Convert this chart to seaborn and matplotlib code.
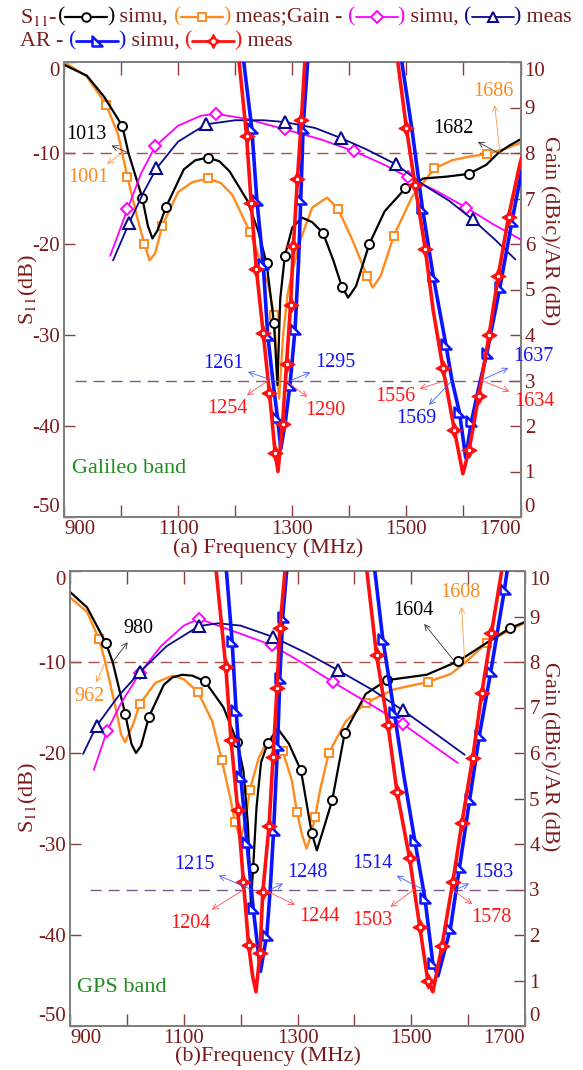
import numpy as np
import matplotlib
matplotlib.use("Agg")
import matplotlib.pyplot as plt
import seaborn as sns
from matplotlib.path import Path

# ======================= DATA =======================
# ---------- panel (a) Galileo band ----------
A_S11_SIM_F = [900, 940, 970, 1002, 1013, 1037, 1047, 1055, 1064, 1079, 1110, 1130, 1152, 1172, 1190, 1221, 1240, 1255, 1268, 1274,
               1279, 1287, 1300, 1317, 1335, 1354, 1372, 1387, 1398, 1412, 1435, 1462, 1498, 1530, 1570, 1609, 1640, 1661, 1680, 1700]
A_S11_SIM = [-0.3, -1.5, -3.8, -7.0, -10.0, -14.9, -18.0, -19.4, -18.5, -15.9, -11.8, -10.8, -10.5, -10.9, -12.0, -15.2, -18.5, -22.1, -28.7, -35.5,
             -26.0, -21.3, -18.2, -17.1, -17.6, -18.8, -21.8, -24.7, -25.9, -24.6, -20.0, -16.4, -13.9, -12.8, -12.6, -12.3, -11.3, -10.0, -9.2, -8.5]
A_S11_SIM_MK = [1002, 1037, 1079, 1152, 1255, 1268, 1287, 1354, 1387, 1435, 1498, 1609]

A_S11_MEAS_F = [900, 940, 974, 995, 1011, 1030, 1041, 1050, 1060, 1072, 1100, 1125, 1152, 1175, 1195, 1226, 1244, 1258, 1268, 1277,
                1284, 1292, 1300, 1314, 1335, 1361, 1380, 1405, 1431, 1441, 1455, 1478, 1510, 1549, 1580, 1610, 1642, 1670, 1700]
A_S11_MEAS = [0.0, -1.6, -4.7, -8.0, -12.6, -17.5, -20.0, -21.8, -21.0, -18.0, -14.3, -13.2, -12.8, -13.3, -14.6, -18.7, -21.8, -24.5, -27.8, -37.0,
              -30.0, -25.5, -23.0, -19.6, -16.0, -14.9, -16.1, -19.5, -23.5, -24.8, -23.5, -19.1, -14.8, -11.7, -10.8, -10.4, -10.1, -9.6, -8.9]
A_S11_MEAS_MK = [974, 1011, 1041, 1072, 1152, 1226, 1268, 1380, 1431, 1478, 1549, 1642]

A_GAIN_SIM_F = [981, 1011, 1035, 1060, 1100, 1140, 1167, 1220, 1287, 1350, 1408, 1460, 1503, 1555, 1605, 1650, 1700]
A_GAIN_SIM = [5.74, 6.76, 7.55, 8.15, 8.6, 8.82, 8.86, 8.75, 8.52, 8.3, 8.04, 7.75, 7.47, 7.15, 6.8, 6.45, 6.1]
A_GAIN_SIM_MK = [1011, 1060, 1167, 1287, 1408, 1503, 1605]

A_GAIN_MEAS_F = [986, 1014, 1040, 1062, 1100, 1149, 1200, 1250, 1287, 1340, 1385, 1430, 1482, 1530, 1575, 1616, 1655, 1691]
A_GAIN_MEAS = [5.64, 6.46, 7.15, 7.66, 8.25, 8.63, 8.72, 8.72, 8.68, 8.55, 8.33, 8.08, 7.75, 7.3, 6.95, 6.54, 6.1, 5.66]
A_GAIN_MEAS_MK = [1014, 1062, 1149, 1287, 1385, 1482, 1616]

A_AR_SIM_L_F = [1208, 1215, 1229, 1238, 1249, 1257, 1266, 1274, 1280, 1288, 1296, 1305, 1311, 1315, 1319, 1327, 1330]
A_AR_SIM_L = [11.0, 10.0, 8.55, 6.96, 5.57, 4.0, 3.0, 2.2, 1.5, 2.1, 2.9, 4.14, 5.6, 7.0, 8.55, 10.0, 11.0]
A_AR_SIM_L_MK = [1229, 1238, 1249, 1257, 1274, 1296, 1305, 1315, 1319]

A_AR_MEAS_L_F = [1200, 1207, 1220, 1228, 1237, 1249, 1260, 1270, 1275, 1283, 1290, 1297, 1302, 1309, 1316, 1322, 1326]
A_AR_MEAS_L = [11.0, 10.0, 8.37, 6.9, 5.46, 4.05, 2.73, 1.41, 1.0, 2.05, 3.37, 4.65, 5.95, 7.42, 8.72, 10.0, 11.0]
A_AR_MEAS_L_MK = [1220, 1228, 1237, 1249, 1260, 1270, 1283, 1290, 1297, 1302, 1309, 1316]

A_AR_SIM_R_F = [1481, 1492, 1510, 1528, 1547, 1569, 1580, 1593, 1604, 1614, 1627, 1641, 1664, 1685, 1702]
A_AR_SIM_R = [11.0, 10.0, 8.5, 6.8, 5.3, 3.8, 3.0, 2.3, 1.3, 2.1, 2.85, 3.6, 5.05, 6.5, 7.6]
A_AR_SIM_R_MK = [1528, 1547, 1569, 1593, 1614, 1641, 1664, 1685]

A_AR_MEAS_R_F = [1475, 1485, 1500, 1515, 1533, 1547, 1564, 1584, 1599, 1610, 1627, 1645, 1661, 1679, 1698, 1702]
A_AR_MEAS_R = [11.0, 10.0, 8.55, 7.3, 5.9, 4.54, 3.28, 1.92, 0.95, 1.48, 2.67, 4.0, 5.3, 6.6, 7.7, 7.9]
A_AR_MEAS_R_MK = [1500, 1515, 1533, 1564, 1584, 1610, 1627, 1645, 1661, 1679]

# ---------- panel (b) GPS band ----------
B_S11_SIM_F = [900, 930, 963, 975, 997, 1008, 1016, 1025, 1039, 1065, 1080, 1097, 1115, 1137, 1170, 1194, 1205, 1213, 1218, 1222,
               1228, 1236, 1248, 1265, 1285, 1306, 1325, 1334, 1345, 1361, 1383, 1420, 1457, 1527, 1583, 1630, 1673, 1700]
B_S11_SIM = [-2.3, -4.0, -7.9, -10.0, -15.7, -19.0, -20.0, -19.2, -16.0, -12.5, -11.7, -11.4, -11.5, -12.1, -15.0, -18.8, -22.0, -28.0, -36.5, -32.6,
             -25.9, -21.0, -18.9, -17.3, -19.0, -21.9, -28.8, -30.7, -28.5, -25.2, -17.8, -13.5, -12.0, -11.4, -9.9, -8.0, -6.3, -5.6]
B_S11_SIM_MK = [963, 997, 1039, 1137, 1194, 1222, 1248, 1306, 1325, 1361, 1383, 1457, 1583, 1673]

B_S11_MEAS_F = [900, 930, 951, 962, 980, 990, 997, 1010, 1023, 1050, 1065, 1081, 1100, 1125, 1150, 1167, 1182, 1190, 1200, 1208,
                1216, 1232, 1246, 1274, 1290, 1299, 1308, 1316, 1324, 1331, 1340, 1355, 1385, 1420, 1470, 1529, 1570, 1594, 1633, 1670, 1700]
B_S11_MEAS = [-2.9, -4.5, -7.5, -10.0, -15.0, -18.0, -18.8, -17.0, -14.6, -12.3, -11.9, -11.5, -11.9, -13.3, -16.5, -20.8, -25.0, -27.6, -29.5, -27.5,
              -24.1, -20.5, -18.8, -19.8, -23.0, -26.5, -29.0, -30.5, -29.0, -27.0, -24.0, -20.0, -16.5, -14.5, -13.0, -12.2, -11.3, -10.1, -7.9, -6.6, -5.7]
B_S11_MEAS_MK = [951, 1023, 1125, 1167, 1190, 1216, 1274, 1299, 1331, 1355, 1420, 1529, 1633]

B_GAIN_SIM_F = [942, 965, 990, 1023, 1060, 1100, 1127, 1160, 1200, 1255, 1310, 1362, 1420, 1485, 1540, 1582]
B_GAIN_SIM = [5.63, 6.48, 7.1, 7.76, 8.35, 8.8, 8.95, 8.8, 8.62, 8.37, 7.97, 7.56, 7.13, 6.64, 6.15, 5.78]
B_GAIN_SIM_MK = [965, 1023, 1127, 1255, 1362, 1485]

B_GAIN_MEAS_F = [923, 947, 985, 1023, 1070, 1127, 1160, 1200, 1257, 1315, 1371, 1430, 1485, 1540, 1594]
B_GAIN_MEAS = [5.98, 6.6, 7.25, 7.78, 8.35, 8.79, 8.85, 8.8, 8.55, 8.2, 7.82, 7.4, 6.94, 6.45, 5.96]
B_GAIN_MEAS_MK = [947, 1023, 1127, 1257, 1371, 1485]

B_AR_SIM_L_F = [1170, 1175, 1185, 1192, 1200, 1211, 1222, 1235, 1246, 1252, 1258, 1265, 1269, 1274, 1281, 1284]
B_AR_SIM_L = [11.0, 10.0, 8.46, 6.94, 5.5, 4.04, 2.6, 1.2, 2.0, 3.0, 4.3, 6.18, 7.65, 8.99, 10.0, 11.0]
B_AR_SIM_L_MK = [1185, 1192, 1200, 1211, 1222, 1246, 1258, 1265, 1269, 1274]

B_AR_MEAS_L_F = [1149, 1157, 1174, 1183, 1195, 1205, 1214, 1221, 1227, 1234, 1239, 1250, 1257, 1264, 1269, 1278, 1282]
B_AR_MEAS_L = [11.0, 10.0, 7.89, 6.29, 4.75, 3.16, 1.78, 1.1, 0.75, 1.6, 2.95, 4.4, 5.91, 7.43, 8.75, 10.0, 11.0]
B_AR_MEAS_L_MK = [1174, 1183, 1195, 1205, 1214, 1234, 1239, 1250, 1257, 1264, 1269]

B_AR_SIM_R_F = [1426, 1436, 1450, 1470, 1487, 1506, 1524, 1538, 1547, 1569, 1585, 1603, 1620, 1640, 1664, 1672]
B_AR_SIM_R = [11.0, 10.0, 8.5, 6.9, 5.5, 4.09, 2.81, 1.38, 1.1, 2.15, 3.5, 5.0, 6.4, 7.8, 9.6, 10.3]
B_AR_SIM_R_MK = [1450, 1470, 1506, 1524, 1538, 1569, 1585, 1603, 1620, 1640, 1664]

B_AR_MEAS_R_F = [1412, 1422, 1439, 1459, 1475, 1497, 1515, 1529, 1538, 1554, 1573, 1589, 1608, 1624, 1641, 1659, 1668]
B_AR_MEAS_R = [11.0, 10.0, 8.15, 6.62, 5.14, 3.69, 2.18, 1.0, 0.75, 1.76, 3.16, 4.46, 5.89, 7.32, 8.64, 10.0, 11.0]
B_AR_MEAS_R_MK = [1439, 1459, 1475, 1497, 1515, 1529, 1554, 1573, 1589, 1608, 1624, 1641]

# thresholds and ticks
S11_LIMIT = -10
AR_LIMIT = 3
X_TICKS = [900, 1000, 1100, 1200, 1300, 1400, 1500, 1600, 1700]
X_LABELED = [900, 1100, 1300, 1500, 1700]
S11_TICKS = [-50, -40, -30, -20, -10, 0]
RIGHT_TICKS = list(range(0, 11))

# annotations: (text, kind, text position (MHz, dB on S11 scale), arrow tail (MHz, dB))
ANN_A = [("1013", "k", (940, -8.0), (1013, -10)),
         ("1001", "o", (942, -12.7), (1002, -10)),
         ("1682", "k", (1582, -7.3), (1661, -10)),
         ("1686", "o", (1652, -3.2), (1664, -10)),
         ("1261", "b", (1179, -33.1), (1266, -35)),
         ("1295", "b", (1375, -33.0), (1297, -35)),
         ("1254", "r", (1186, -38.1), (1258, -35)),
         ("1290", "r", (1358, -38.3), (1288, -35)),
         ("1556", "r", (1480, -36.8), (1568, -35)),
         ("1569", "b", (1517, -39.2), (1580, -35)),
         ("1637", "b", (1722, -32.4), (1630, -35)),
         ("1634", "r", (1724, -37.3), (1632, -35))]
ANN_B = [("980", "k", (1020, -6.3), (975, -10)),
         ("962", "o", (935, -13.8), (962, -10)),
         ("1604", "k", (1503, -4.3), (1577, -10)),
         ("1608", "o", (1587, -2.4), (1594, -10)),
         ("1215", "b", (1118, -32.3), (1219, -35)),
         ("1248", "b", (1318, -33.1), (1252, -35)),
         ("1204", "r", (1111, -38.7), (1206, -35)),
         ("1244", "r", (1339, -38.0), (1240, -35)),
         ("1514", "b", (1431, -32.1), (1521, -35)),
         ("1503", "r", (1431, -38.4), (1505, -35)),
         ("1583", "b", (1645, -33.1), (1579, -35)),
         ("1578", "r", (1640, -38.1), (1572, -35))]

# ======================= STYLE =======================
sns.set_theme(style="white", context="notebook")
plt.rcParams["font.family"] = ["Liberation Serif", "DejaVu Serif"]
plt.rcParams["mathtext.fontset"] = "stix"

MAROON = "#7B1A1A"
TICKC = "#8E3B3B"
SPINE = "#7F7F7F"
ORANGE = "#FF8A1E"
NOTCH = Path([(-1, 1), (-1, -1), (1, -1), (-1, 1)],
             [Path.MOVETO, Path.LINETO, Path.LINETO, Path.CLOSEPOLY])

ST = {
    "s11_sim": dict(color="black", lw=1.6, marker="o", ms=6.5, mfc="white", mew=1.4),
    "s11_meas": dict(color=ORANGE, lw=1.7, marker="s", ms=6.0, mfc="white", mew=1.4),
    "gain_sim": dict(color="#FF00FF", lw=1.3, marker="D", ms=6.0, mfc="white", mew=1.4),
    "gain_meas": dict(color="#0A0A8C", lw=1.3, marker="^", ms=8.0, mfc="white", mew=1.5),
    "ar_sim": dict(color="#0A14FF", lw=2.6, marker=NOTCH, ms=7.5, mfc="white", mew=1.8),
    "ar_meas": dict(color="#FF1010", lw=2.6, marker=(4, 1, 0), ms=11, mfc="#FF1010", mew=0.8),
}
ANN_COL = {"k": ("black", "#333333"), "o": (ORANGE, "#FF9A3C"),
           "b": ("#1515F5", "#4060FF"), "r": ("#FF1515", "#FF5050")}


def draw(ax, f, v, mk, st, z):
    f = np.asarray(f, float)
    v = np.asarray(v, float)
    idx = np.flatnonzero(np.isin(f, mk)).tolist()
    sns.lineplot(x=f, y=v, ax=ax, sort=False, estimator=None, legend=False,
                 color=st["color"], linewidth=st["lw"], marker=st["marker"],
                 markersize=st["ms"], markerfacecolor=st["mfc"],
                 markeredgecolor=st["color"], markeredgewidth=st["mew"],
                 markevery=idx, zorder=z)
    return f[idx], v[idx]


def white_dots(ax, fx, vy, z):
    sns.scatterplot(x=fx, y=vy, ax=ax, color="white", s=6, linewidth=0,
                    zorder=z, legend=False)


fig = plt.figure(figsize=(5.83, 10.70), dpi=100)
axA = fig.add_axes([64 / 583, 1 - 517 / 1070, 456.5 / 583, 455 / 1070])
axB = fig.add_axes([70 / 583, 1 - 1026 / 1070, 455 / 583, 455 / 1070])


def panel(ax, d, anns, band_text, band_pos, ar_start):
    ax2 = ax.twinx()
    ax.axhline(S11_LIMIT, color="#A8524E", lw=1.0, ls=(0, (8, 5)), zorder=1)
    draw(ax, d["s11m_f"], d["s11m"], d["s11m_mk"], ST["s11_meas"], 3)
    draw(ax, d["s11s_f"], d["s11s"], d["s11s_mk"], ST["s11_sim"], 4)
    ax2.hlines(AR_LIMIT, ar_start, 1700, color="#7B5A8C", lw=1.0, ls=(0, (8, 5)), zorder=1)
    draw(ax2, d["gs_f"], d["gs"], d["gs_mk"], ST["gain_sim"], 3)
    draw(ax2, d["gm_f"], d["gm"], d["gm_mk"], ST["gain_meas"], 4)
    for side in ("L", "R"):
        draw(ax2, d["ars_f" + side], d["ars" + side], d["ars_mk" + side], ST["ar_sim"], 5)
    for side in ("L", "R"):
        fx, vy = draw(ax2, d["arm_f" + side], d["arm" + side], d["arm_mk" + side], ST["ar_meas"], 6)
        white_dots(ax2, fx, vy, 7)

    ax.set_xlim(900, 1700)
    ax.set_ylim(-50, 0)
    ax2.set_ylim(0, 10)
    ax.set_xticks(X_TICKS)
    ax.set_xticklabels([str(t) if t in X_LABELED else "" for t in X_TICKS])
    ax.set_yticks(S11_TICKS)
    ax.set_yticklabels([str(t) for t in S11_TICKS])
    ax2.set_yticks(RIGHT_TICKS)
    ax2.set_yticklabels([str(t) for t in RIGHT_TICKS])
    ax.set_xlabel("")
    ax.set_ylabel("")
    ax2.set_ylabel("")
    ax.tick_params(axis="x", direction="in", length=9, width=1.0, color=TICKC,
                   top=True, bottom=True, labelsize=15, labelcolor=MAROON, pad=2)
    ax.tick_params(axis="y", direction="in", length=8, width=1.0, color=TICKC,
                   left=True, right=False, labelsize=15, labelcolor=MAROON, pad=3)
    ax2.tick_params(axis="y", direction="in", length=8, width=1.0, color=TICKC,
                    right=True, left=False, labelsize=15, labelcolor=MAROON, pad=3)
    xl = ax.get_xticklabels()
    xl[0].set_ha("left")
    xl[-1].set_ha("right")
    yl = ax.get_yticklabels()
    yl[0].set_va("bottom")
    yl[-1].set_va("top")
    yr = ax2.get_yticklabels()
    yr[0].set_va("bottom")
    yr[-1].set_va("top")
    for a in (ax, ax2):
        for s in a.spines.values():
            s.set_color(SPINE)
            s.set_linewidth(1.3)
    ax.grid(False)
    ax2.grid(False)
    ax.text(band_pos[0], band_pos[1], band_text, color="#1E8B1E", fontsize=16,
            ha="left", va="center")
    for txt, kind, tpos, tail in anns:
        tc, ac = ANN_COL[kind]
        ax2.annotate(txt, xy=(tail[0], (tail[1] + 50) / 5), xytext=(tpos[0], (tpos[1] + 50) / 5),
                     color=tc, fontsize=14.5, ha="center", va="center",
                     annotation_clip=False, zorder=20,
                     arrowprops=dict(arrowstyle="<-", color=ac, lw=0.6,
                                     shrinkA=1, shrinkB=0, mutation_scale=10))
    return ax2


DA = dict(s11s_f=A_S11_SIM_F, s11s=A_S11_SIM, s11s_mk=A_S11_SIM_MK,
          s11m_f=A_S11_MEAS_F, s11m=A_S11_MEAS, s11m_mk=A_S11_MEAS_MK,
          gs_f=A_GAIN_SIM_F, gs=A_GAIN_SIM, gs_mk=A_GAIN_SIM_MK,
          gm_f=A_GAIN_MEAS_F, gm=A_GAIN_MEAS, gm_mk=A_GAIN_MEAS_MK,
          ars_fL=A_AR_SIM_L_F, arsL=A_AR_SIM_L, ars_mkL=A_AR_SIM_L_MK,
          ars_fR=A_AR_SIM_R_F, arsR=A_AR_SIM_R, ars_mkR=A_AR_SIM_R_MK,
          arm_fL=A_AR_MEAS_L_F, armL=A_AR_MEAS_L, arm_mkL=A_AR_MEAS_L_MK,
          arm_fR=A_AR_MEAS_R_F, armR=A_AR_MEAS_R, arm_mkR=A_AR_MEAS_R_MK)
DB = dict(s11s_f=B_S11_SIM_F, s11s=B_S11_SIM, s11s_mk=B_S11_SIM_MK,
          s11m_f=B_S11_MEAS_F, s11m=B_S11_MEAS, s11m_mk=B_S11_MEAS_MK,
          gs_f=B_GAIN_SIM_F, gs=B_GAIN_SIM, gs_mk=B_GAIN_SIM_MK,
          gm_f=B_GAIN_MEAS_F, gm=B_GAIN_MEAS, gm_mk=B_GAIN_MEAS_MK,
          ars_fL=B_AR_SIM_L_F, arsL=B_AR_SIM_L, ars_mkL=B_AR_SIM_L_MK,
          ars_fR=B_AR_SIM_R_F, arsR=B_AR_SIM_R, ars_mkR=B_AR_SIM_R_MK,
          arm_fL=B_AR_MEAS_L_F, armL=B_AR_MEAS_L, arm_mkL=B_AR_MEAS_L_MK,
          arm_fR=B_AR_MEAS_R_F, armR=B_AR_MEAS_R, arm_mkR=B_AR_MEAS_R_MK)

panel(axA, DA, ANN_A, "Galileo band", (914, -44.7), 920)
panel(axB, DB, ANN_B, "GPS band", (912, -45.8), 935)

# axis titles
for yc, lab in ((1 - 548 / 1070, "(a) Frequency (MHz)"), (1 - 1056 / 1070, "(b)Frequency (MHz)")):
    fig.text(268 / 583, yc, lab, color=MAROON, fontsize=16, ha="center", va="center")
for yc in (1 - 289 / 1070, 1 - 797 / 1070):
    fig.text(28 / 583, yc, "S$_{11}$(dB)", color=MAROON, fontsize=16, ha="center",
             va="center", rotation=90)
for yc in (1 - 231 / 1070, 1 - 757 / 1070):
    fig.text(549 / 583, yc, "Gain (dBic)/AR (dB)", color=MAROON, fontsize=16,
             ha="center", va="center", rotation=270)

# ---------------- legend (top) ----------------
lax = fig.add_axes([0, 0, 1, 1], zorder=10)
lax.set_xlim(0, 583)
lax.set_ylim(1070, 0)
lax.axis("off")
renderer = fig.canvas.get_renderer()
LEG_FS = 15.8
SW = 42


def put_text(x, y, s, color=MAROON):
    t = lax.text(x, y, s, color=color, fontsize=LEG_FS, ha="left", va="center")
    return x + t.get_window_extent(renderer).width


def put_sample(x, y, st):
    x = put_text(x, y, "(", st["color"])
    lax.plot([x, x + SW], [y, y], color=st["color"], lw=min(st["lw"], 2.0))
    lax.plot([x + SW / 2], [y], marker=st["marker"], ms=st["ms"] * 0.95,
             mfc=st["mfc"], mec=st["color"], mew=st["mew"], ls="none")
    if st is ST["ar_meas"]:
        lax.plot([x + SW / 2], [y], marker="o", ms=2.2, mfc="white", mec="white", ls="none")
    x = put_text(x + SW, y, ")", st["color"])
    return x


y1, y2 = 17, 41
x = put_text(20, y1, "S$_{11}$-")
x = put_sample(x, y1, ST["s11_sim"])
x = put_text(x, y1, " simu, ")
x = put_sample(x, y1, ST["s11_meas"])
x = put_text(x, y1, " meas;Gain - ")
x = put_sample(x, y1, ST["gain_sim"])
x = put_text(x, y1, " simu, ")
x = put_sample(x, y1, ST["gain_meas"])
x = put_text(x, y1, " meas")

x = put_text(20, y2, "AR - ")
x = put_sample(x, y2, ST["ar_sim"])
x = put_text(x, y2, " simu, ")
x = put_sample(x, y2, ST["ar_meas"])
x = put_text(x, y2, " meas")

fig.savefig("out.png", dpi=100)
